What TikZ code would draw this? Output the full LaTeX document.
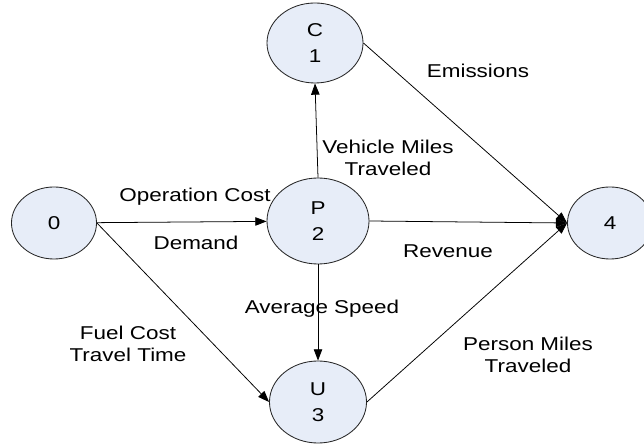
\documentclass[tikz,border=0pt]{standalone}
\usepackage{fontspec}
\setmainfont{Liberation Sans}[FakeStretch=1.21]
\usetikzlibrary{arrows.meta, shapes.geometric}
\definecolor{nodefill}{RGB}{231,237,248}

\begin{document}
\begin{tikzpicture}[
  x=0.025cm, y=-0.025cm,
  st/.style={ellipse, draw=black!85, fill=nodefill, line width=0.6pt, inner sep=0pt,
             align=center, font=\fontsize{13.2}{18.5}\selectfont},
  lbl/.style={align=center, inner sep=0pt, font=\fontsize{13.2}{16}\selectfont},
  flow/.style={-{Triangle[length=8pt, width=6pt]}, line width=0.55pt}
]
  \clip (0,0) rectangle (644,444);

  % stages
  \node[st, minimum width=2.125cm, minimum height=1.8cm]  (n0) at (54,223)  {0};
  \node[st, minimum width=2.4cm,   minimum height=2.0cm]  (c1) at (315,43)  {C\\1};
  \node[st, minimum width=2.55cm,  minimum height=2.15cm] (p2) at (318,221) {P\\2};
  \node[st, minimum width=2.425cm, minimum height=2.05cm] (u3) at (318,402) {U\\3};
  \node[st, minimum width=2.125cm, minimum height=1.8cm]  (n4) at (610,223) {4};

  % flows
  \draw[flow] (n0) -- (p2);
  \draw[flow] (n0.east) -- (u3.west);
  \draw[flow] (p2.north) -- (c1.south);
  \draw[flow] (p2.south) -- (u3.north);
  \draw[flow] (p2.east) -- (n4.west);
  \draw[flow] (c1.east) -- (n4.west);
  \draw[flow] (u3.east) -- (n4.west);

  % labels
  \node[lbl] (opcost)  at (195,197) {Operation Cost};
  \node[lbl] (demand)  at (196,243) {Demand};
  \node[lbl] (emis)    at (478,71)  {Emissions};
  \node[lbl] (vmt)     at (388,158) {Vehicle Miles\\Traveled};
  \node[lbl] (revenue) at (448,251) {Revenue};
  \node[lbl] (avgspd)  at (322,309) {Average Speed};
  \node[lbl] (fuel)    at (128,344) {Fuel Cost\\Travel Time};
  \node[lbl] (pmt)     at (528,355) {Person Miles\\Traveled};
\end{tikzpicture}
\end{document}
